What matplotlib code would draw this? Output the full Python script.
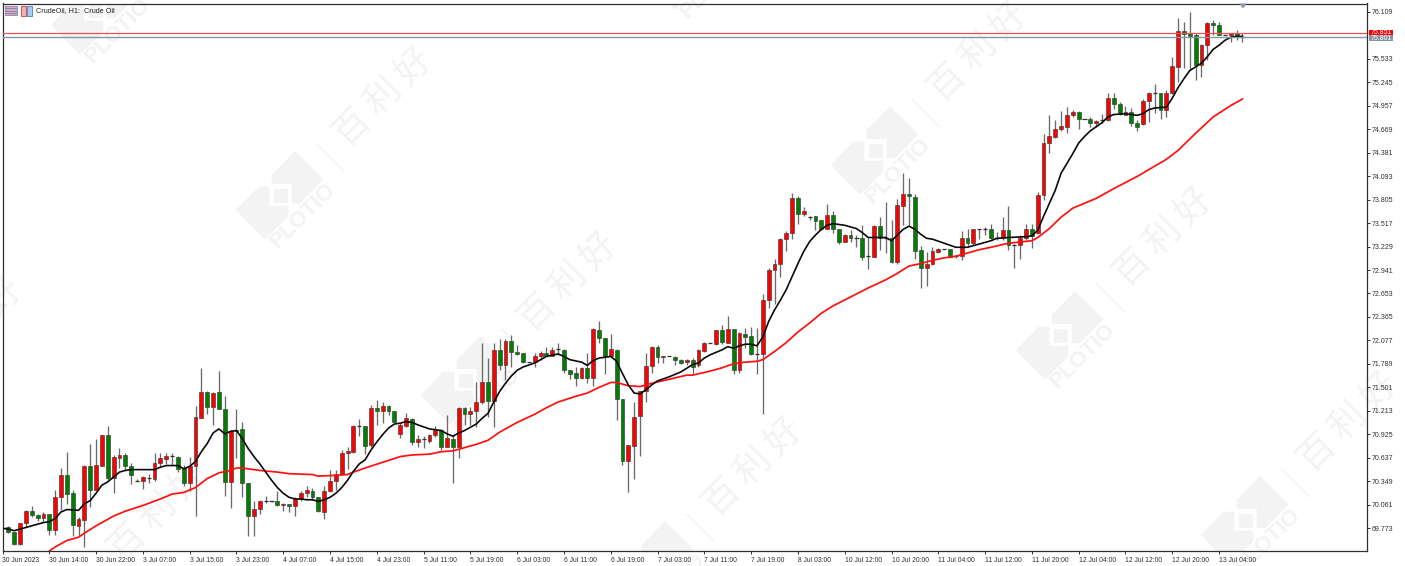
import matplotlib
matplotlib.use("Agg")
import matplotlib.pyplot as plt
from matplotlib.patches import Polygon, Rectangle
from matplotlib.transforms import Affine2D

opens = [69.78,69.72,69.58,69.84,69.98,69.93,69.90,69.94,69.75,70.15,
70.43,70.20,69.80,69.87,70.54,70.24,70.54,70.91,70.39,70.63,
70.67,70.54,70.36,70.35,70.40,70.38,70.57,70.62,70.67,70.65,
70.51,70.33,70.54,71.13,71.44,71.26,71.44,71.24,70.34,70.96,
70.99,70.33,69.92,70.01,70.10,70.10,70.10,70.05,70.07,70.04,
70.13,70.20,70.23,70.15,69.97,70.23,70.35,70.44,70.70,70.71,
71.03,71.02,70.79,71.25,71.21,71.27,71.21,70.93,71.03,71.11,
70.83,70.86,70.84,70.91,70.98,70.77,70.87,70.77,71.25,71.17,
71.21,71.32,71.56,71.33,71.96,71.78,72.07,71.94,71.92,71.81,
71.81,71.89,71.92,71.89,71.97,71.96,71.71,71.68,71.62,71.74,
71.61,72.20,72.11,71.88,71.96,71.36,70.60,70.78,71.15,71.45,
71.76,72.00,71.87,71.88,71.87,71.84,71.81,71.84,71.77,71.95,
72.05,72.03,72.20,72.05,72.22,71.71,72.16,72.13,71.91,71.91,
72.57,72.94,73.01,73.32,73.39,73.83,73.63,73.59,73.60,73.55,
73.45,73.62,73.44,73.29,73.37,73.34,73.33,73.11,73.10,73.48,
73.33,73.34,73.04,73.73,73.87,73.84,73.19,72.97,73.02,73.16,
73.20,73.20,73.11,73.11,73.33,73.27,73.44,73.44,73.44,73.34,
73.33,73.43,73.25,73.25,73.33,73.44,73.39,73.86,74.50,74.58,
74.67,74.70,74.84,74.88,74.80,74.80,74.75,74.78,74.78,75.05,
74.98,74.85,74.88,74.74,74.73,75.01,75.11,75.11,74.91,75.11,
75.43,75.88,75.85,75.83,75.46,75.70,75.97,75.95,75.83,75.83,
75.85,75.81]

closes = [69.72,69.58,69.83,69.98,69.93,69.90,69.94,69.75,70.15,70.43,
70.19,69.81,69.88,70.54,70.24,70.55,70.91,70.39,70.64,70.67,
70.53,70.42,70.35,70.40,70.39,70.57,70.63,70.66,70.66,70.50,
70.33,70.53,71.14,71.44,71.26,71.43,71.24,70.34,70.96,70.98,
70.33,69.92,70.01,70.10,70.10,70.10,70.05,70.07,70.04,70.13,
70.20,70.24,70.15,69.98,70.23,70.35,70.44,70.70,70.72,71.03,
71.03,70.78,71.25,71.21,71.27,71.21,71.08,71.04,71.12,70.83,
70.86,70.86,70.92,70.98,70.77,70.88,70.77,71.25,71.17,71.21,
71.32,71.56,71.33,71.96,71.78,72.07,71.93,71.91,71.81,71.81,
71.89,71.92,71.89,71.96,71.97,71.71,71.67,71.62,71.74,71.61,
72.22,72.11,71.88,71.97,71.36,70.60,70.79,71.14,71.45,71.76,
72.00,71.87,71.89,71.88,71.84,71.80,71.84,71.75,71.96,72.05,
72.04,72.20,72.06,72.22,71.71,72.17,72.12,71.91,71.91,72.57,
72.94,73.01,73.32,73.39,73.83,73.63,73.67,73.59,73.54,73.45,
73.62,73.44,73.29,73.37,73.33,73.34,73.10,73.11,73.48,73.34,
73.33,73.04,73.74,73.87,73.85,73.18,72.97,73.02,73.17,73.20,
73.20,73.10,73.11,73.33,73.27,73.44,73.44,73.44,73.33,73.34,
73.43,73.25,73.25,73.33,73.44,73.36,73.86,74.50,74.59,74.67,
74.71,74.84,74.88,74.80,74.80,74.75,74.77,74.78,75.05,74.98,
74.86,74.88,74.74,74.70,75.01,75.11,75.11,74.91,75.11,75.44,
75.88,75.84,75.82,75.46,75.70,75.97,75.95,75.83,75.83,75.85,
75.81,75.80]

highs = [69.80,69.73,69.84,70.00,70.04,69.94,69.97,69.95,70.24,70.51,
70.71,70.24,69.91,70.55,70.80,70.87,70.92,71.03,70.67,70.75,
70.69,70.57,70.37,70.41,70.44,70.69,70.69,70.70,70.69,70.66,
70.55,70.64,71.27,71.74,71.45,71.44,71.70,71.39,70.98,71.23,
71.07,70.33,70.10,70.12,70.17,70.10,70.23,70.08,70.07,70.15,
70.23,70.29,70.26,70.16,70.29,70.48,70.49,70.73,70.77,71.04,
71.11,71.03,71.28,71.34,71.32,71.28,71.21,71.06,71.18,71.12,
70.92,70.90,70.93,71.02,70.99,71.16,70.91,71.26,71.26,71.26,
71.56,72.05,71.86,72.04,72.09,72.09,72.14,72.02,71.92,71.81,
71.92,71.95,71.99,72.00,72.04,71.97,71.71,71.75,71.75,71.92,
72.23,72.31,72.11,72.16,71.97,71.36,70.79,71.32,71.46,71.92,
72.01,72.02,71.89,71.88,71.88,71.85,71.85,71.86,71.97,72.06,
72.05,72.21,72.27,72.38,72.22,72.18,72.23,72.24,72.23,72.65,
72.96,73.08,73.33,73.42,73.89,73.85,73.71,73.60,73.60,73.56,
73.75,73.66,73.45,73.38,73.43,73.37,73.49,73.33,73.49,73.59,
73.77,73.56,73.81,74.13,74.07,73.88,73.24,73.16,73.22,73.21,
73.20,73.20,73.12,73.42,73.44,73.45,73.44,73.47,73.50,73.41,
73.59,73.73,73.26,73.37,73.51,73.51,73.90,74.61,74.85,74.78,
74.89,74.94,74.91,74.89,74.80,74.82,74.78,74.86,75.11,75.11,
75.00,74.95,74.93,74.78,75.04,75.13,75.22,75.11,75.15,75.56,
76.04,75.98,76.11,75.85,75.72,75.98,76.01,75.99,75.83,75.85,
75.89,75.85]

lows = [69.71,69.57,69.57,69.79,69.91,69.86,69.85,69.69,69.69,69.99,
70.07,69.68,69.68,69.54,70.03,70.24,70.53,70.36,70.20,70.51,
70.48,70.31,70.35,70.25,70.32,70.35,70.52,70.56,70.55,70.46,
70.29,70.23,69.92,71.12,71.17,71.04,71.23,70.17,70.02,70.63,
70.16,69.67,69.68,69.95,70.08,70.09,70.04,69.98,69.97,69.92,
70.10,70.16,70.12,69.97,69.89,70.22,70.24,70.43,70.50,70.69,
70.90,70.68,70.77,71.04,71.06,71.16,71.08,70.88,71.01,70.79,
70.77,70.76,70.82,70.89,70.73,70.77,70.33,70.63,71.04,71.04,
71.01,71.30,71.14,71.01,71.71,71.59,71.75,71.90,71.80,71.81,
71.75,71.83,71.88,71.88,71.90,71.68,71.60,71.52,71.60,71.55,
71.52,72.04,71.66,71.87,71.10,70.55,70.21,70.38,70.66,71.32,
71.68,71.80,71.80,71.88,71.77,71.79,71.77,71.67,71.75,71.94,
72.04,72.02,72.03,72.04,71.66,71.68,71.98,71.90,71.66,71.17,
72.47,72.52,72.86,73.17,73.32,73.51,73.60,73.55,73.43,73.43,
73.44,73.40,73.26,73.28,73.29,73.22,73.06,72.95,73.10,73.19,
73.15,73.03,73.01,73.49,73.49,73.07,72.72,72.74,73.00,73.15,
73.20,73.09,73.09,73.06,73.23,73.25,73.32,73.37,73.32,73.31,
73.31,73.19,72.97,73.07,73.31,73.21,73.38,73.80,74.38,74.56,
74.65,74.62,74.82,74.67,74.80,74.70,74.70,74.75,74.77,74.92,
74.84,74.84,74.71,74.65,74.72,74.76,74.87,74.80,74.82,75.10,
75.25,75.42,75.40,75.27,75.31,75.52,75.83,75.83,75.83,75.74,
75.77,75.74]

black_bars = [-1,0,1,2,3,4,6,7,8,9,10,12,13,14,15,16,17,18,19,20,21,24,25,26,27,29,30,31,32,33,34,35,36,37,38,39,40,
41,42,43,44,45,46,47,48,49,50,51,52,53,54,55,56,57,58,59,60,61,62,63,64,65,66,67,68,69,70,72,74,75,76,77,78,80,81,
82,83,84,85,86,87,88,90,92,94,95,96,98,99,100,101,102,103,104,105,106,107,108,109,110,111,113,115,117,118,119,120,
121,122,123,124,125,126,127,128,129,130,131,132,133,134,135,136,137,138,139,140,141,143,145,146,147,150,151,152,153,
154,155,156,157,158,160,162,163,164,166,168,169,171,174,175,176,177,178,179,180,181,182,183,184,185,186,187,188,189,
191,193,194,195,196,198,199,200,201,202,204,205,206,207,208,209,210,211]
black_line = [69.77,69.76,69.74,69.76,69.78,69.80,69.84,69.85,69.89,69.97,70.00,69.99,70.07,70.11,70.20,70.30,70.34,70.40,70.46,70.48,70.49,70.49,70.49,70.52,70.54,70.54,70.50,70.53,70.59,70.71,70.81,70.94,70.99,70.93,70.96,70.97,70.87,
70.75,70.65,70.56,70.46,70.36,70.27,70.20,70.15,70.13,70.13,70.12,70.12,70.10,70.12,70.15,70.20,70.27,70.36,70.47,70.56,70.61,70.73,70.83,70.92,71.00,71.05,71.06,71.08,71.07,71.04,70.99,70.97,70.93,70.90,70.94,70.97,71.05,71.12,
71.18,71.32,71.45,71.55,71.64,71.71,71.75,71.80,71.88,71.91,71.88,71.84,71.81,71.77,71.83,71.86,71.87,71.88,71.82,71.67,71.53,71.43,71.42,71.47,71.53,71.58,71.63,71.69,71.78,71.80,71.86,71.90,
71.93,71.96,72.00,71.98,72.01,72.03,72.03,72.01,72.12,72.31,72.45,72.57,72.70,72.86,73.02,73.17,73.29,73.37,73.44,73.49,73.51,73.49,73.45,73.40,73.34,73.34,73.30,73.37,73.44,
73.48,73.44,73.38,73.33,73.32,73.27,73.22,73.22,73.22,73.26,73.30,73.33,73.34,73.35,73.36,73.43,73.60,73.76,73.92,74.13,74.25,74.37,74.50,74.58,74.65,74.70,74.75,74.82,74.85,
74.86,74.84,74.86,74.91,74.93,74.94,75.05,75.18,75.29,75.39,75.48,75.56,75.65,75.70,75.76,75.80,75.81,75.81]

red_bars = [7,8,9,10,12,13,15,18,20,23,26,28,30,32,34,36,38,39,40,43,46,48,52,53,56,58,59,61,64,67,69,72,74,76,78,80,82,84,87,90,92,94,97,99,101,103,104,106,108,110,113,116,
117,120,122,124,126,128,129,131,133,135,137,139,141,144,147,150,152,154,156,158,160,162,164,166,168,171,175,176,178,180,182,186,189,193,198,200,203,206,209,211]
red_line = [69.49,69.54,69.58,69.62,69.66,69.71,69.80,69.92,69.98,70.05,70.13,70.19,70.21,70.27,70.38,70.45,70.48,70.51,70.51,70.48,70.46,70.44,70.43,70.41,70.42,70.43,70.46,70.51,70.58,70.65,70.67,70.68,70.71,70.72,70.76,70.80,70.85,70.95,71.07,71.17,71.25,71.32,71.39,71.43,71.50,71.56,71.56,71.52,71.51,71.55,71.60,71.65,
71.65,71.70,71.74,71.79,71.81,71.82,71.84,71.94,72.05,72.18,72.29,72.41,72.50,72.61,72.72,72.82,72.90,72.99,73.02,73.06,73.09,73.11,73.15,73.19,73.22,73.27,73.30,73.34,73.45,73.59,73.70,73.82,73.94,74.09,74.30,74.41,74.62,74.82,74.96,75.04]

price_ticks = [76.109,75.533,75.245,74.957,74.669,74.381,74.093,73.805,73.517,73.229,72.941,72.653,72.365,72.077,71.789,71.501,71.213,70.925,70.637,70.349,70.061,69.773]
time_tick_bars = list(range(-1, 208, 8))
time_tick_labels = ["30 Jun 2023","30 Jun 14:00","30 Jun 22:00","3 Jul 07:00","3 Jul 15:00","3 Jul 23:00","4 Jul 07:00","4 Jul 15:00","4 Jul 23:00",
"5 Jul 11:00","5 Jul 19:00","6 Jul 03:00","6 Jul 11:00","6 Jul 19:00","7 Jul 03:00","7 Jul 11:00","7 Jul 19:00","8 Jul 03:00",
"10 Jul 12:00","10 Jul 20:00","11 Jul 04:00","11 Jul 12:00","11 Jul 20:00","12 Jul 04:00","12 Jul 12:00","12 Jul 20:00","13 Jul 04:00"]
ask_price, bid_price = 75.851, 75.801
title_text = "CrudeOil, H1:  Crude Oil"
watermark_logos = [(110,10),(295,195),(480,380),(665,565),(705,-35),(890,150),(1075,335),(1260,520)]
watermark_names = [(383,97),(568,282),(753,467),(978,52),(1163,237),(1348,422),(-27,327),(158,512)]

W, H = 1405, 566
plt.rcParams["font.family"] = ["Liberation Sans", "DejaVu Sans"]
fig = plt.figure(figsize=(W/100, H/100), dpi=100, facecolor="white")
L, R, T, B = 2.5, 1367, 3.5, 551
ax = fig.add_axes([L/W, 1-B/H, (R-L)/W, (B-T)/H])
ax.set_xlim(-0.94, 232.3)
ax.set_ylim(69.491, 76.213)

px = Affine2D().scale(1, -1).translate(0, H)
WM = "#f3f3f3"
upper = [(225,333),(310,418),(240,490),(215,490),(215,432),(155,432),(155,405)]
lower = [(48,510),(115,440),(148,440),(148,497),(205,497),(205,530),(135,598)]
inner = [(162,447),(203,447),(203,488),(162,488)]
def rel(pts, cx, cy):
    return [(p[0]/3+220-295+cx, p[1]/3+40-195+cy) for p in pts]
for cx, cy in watermark_logos:
    for shape in (upper, lower, inner):
        ax.add_patch(Polygon(rel(shape, cx, cy), closed=True, fc=WM, ec="none", transform=px, zorder=0))
    ax.text(cx+8, cy+21, "PLOTIO", rotation=45, rotation_mode="anchor", ha="center", va="center", fontsize=16, fontweight="bold",
            color=WM, transform=px, zorder=0, family=["Liberation Sans"])
    x0, y0 = rel([(290,313)], cx, cy)[0]
    x1, y1 = rel([(372,395)], cx, cy)[0]
    ax.plot([x0, x1], [y0, y1], color=WM, lw=1, transform=px, zorder=0)
for cx, cy in watermark_names:
    for k, ch in enumerate("百利好"):
        ax.text(cx+(k-1)*31, cy-(k-1)*30, ch, rotation=45, rotation_mode="anchor", ha="center", va="center", fontsize=26,
                color=WM, transform=px, zorder=0, family=["Noto Sans CJK SC"])

bars = range(len(opens))
ax.vlines(bars, lows, highs, color="#6a6a6a", lw=0.95, zorder=2)
for i, o, c in zip(bars, opens, closes):
    up = c > o
    col = "#ff0000" if up else "#008000"
    lo, hi = min(o, c), max(o, c)
    if hi - lo < 0.015:
        ax.plot([i-0.36, i+0.36], [c, c], color="#303030", lw=0.9, zorder=3, solid_capstyle="butt")
    else:
        ax.bar(i, hi-lo, bottom=lo, width=0.66, color=col, edgecolor="#3a3a3a", linewidth=0.45, zorder=3)

ax.plot(red_bars, red_line, color="#ff1010", lw=1.25, zorder=4, solid_joinstyle="round")
ax.plot(black_bars, black_line, color="#0a0a0a", lw=1.2, zorder=5, solid_joinstyle="round")
ax.axhline(ask_price, color="#f05050", lw=0.9, zorder=6)
ax.axhline(bid_price, color="#8795a5", lw=1.0, zorder=6)

for s in ax.spines.values():
    s.set_linewidth(0.9)
    s.set_color("#303030")
ax.yaxis.tick_right()
ax.set_yticks(price_ticks)
ax.set_yticklabels([f"{v:.3f}" for v in price_ticks])
ax.set_xticks(time_tick_bars)
ax.set_xticklabels(time_tick_labels, ha="left")
ax.tick_params(axis="y", length=2.5, width=0.7, color="#303030", labelsize=5.0, labelcolor="#303030", pad=0.6)
ax.tick_params(axis="x", length=2.5, width=0.7, color="#303030", labelsize=4.9, labelcolor="#303030", pad=2)

# current price flags
for p, col, dy in ((ask_price, "#ff0000", 33), (bid_price, "#8795a5", 38)):
    fig.patches.append(Rectangle((1368.5/W, 1-(dy+3.2)/H), 24/W, 6.4/H, transform=fig.transFigure, fc=col, ec="none", zorder=7))
    fig.text(1370.5/W, 1-dy/H, f"{p:.3f}", color="white", fontsize=5.0, va="center", ha="left", zorder=8)

# chart header
fig.text(36/W, 1-10.5/H, title_text, fontsize=5.2, color="#202020", va="center", ha="left", zorder=8)
fig.patches.append(Rectangle((5/W, 1-15/H), 12/W, 9/H, transform=fig.transFigure, fc="#f2a6a6", ec="#6d8fc0", lw=0.6, zorder=7))
for yy in (8, 10.5, 13):
    fig.lines.append(plt.Line2D([6/W, 16/W], [1-yy/H, 1-yy/H], transform=fig.transFigure, color="#5f86c6", lw=0.6, zorder=8))
fig.patches.append(Rectangle((21/W, 1-15.5/H), 5/W, 9.5/H, transform=fig.transFigure, fc="#f4b0b0", ec="#d04040", lw=0.6))
fig.patches.append(Rectangle((27/W, 1-15.5/H), 5/W, 9.5/H, transform=fig.transFigure, fc="#a9cdf0", ec="#4a80c0", lw=0.6))

# scroll marker at chart shift position
ax.add_patch(Polygon([(1239,3.5),(1247,3.5),(1243,8.5)], closed=True, fc="#8f9aa8", ec="none", transform=px, zorder=7, clip_on=False))

fig.savefig("out.png", dpi=100, facecolor="white")
